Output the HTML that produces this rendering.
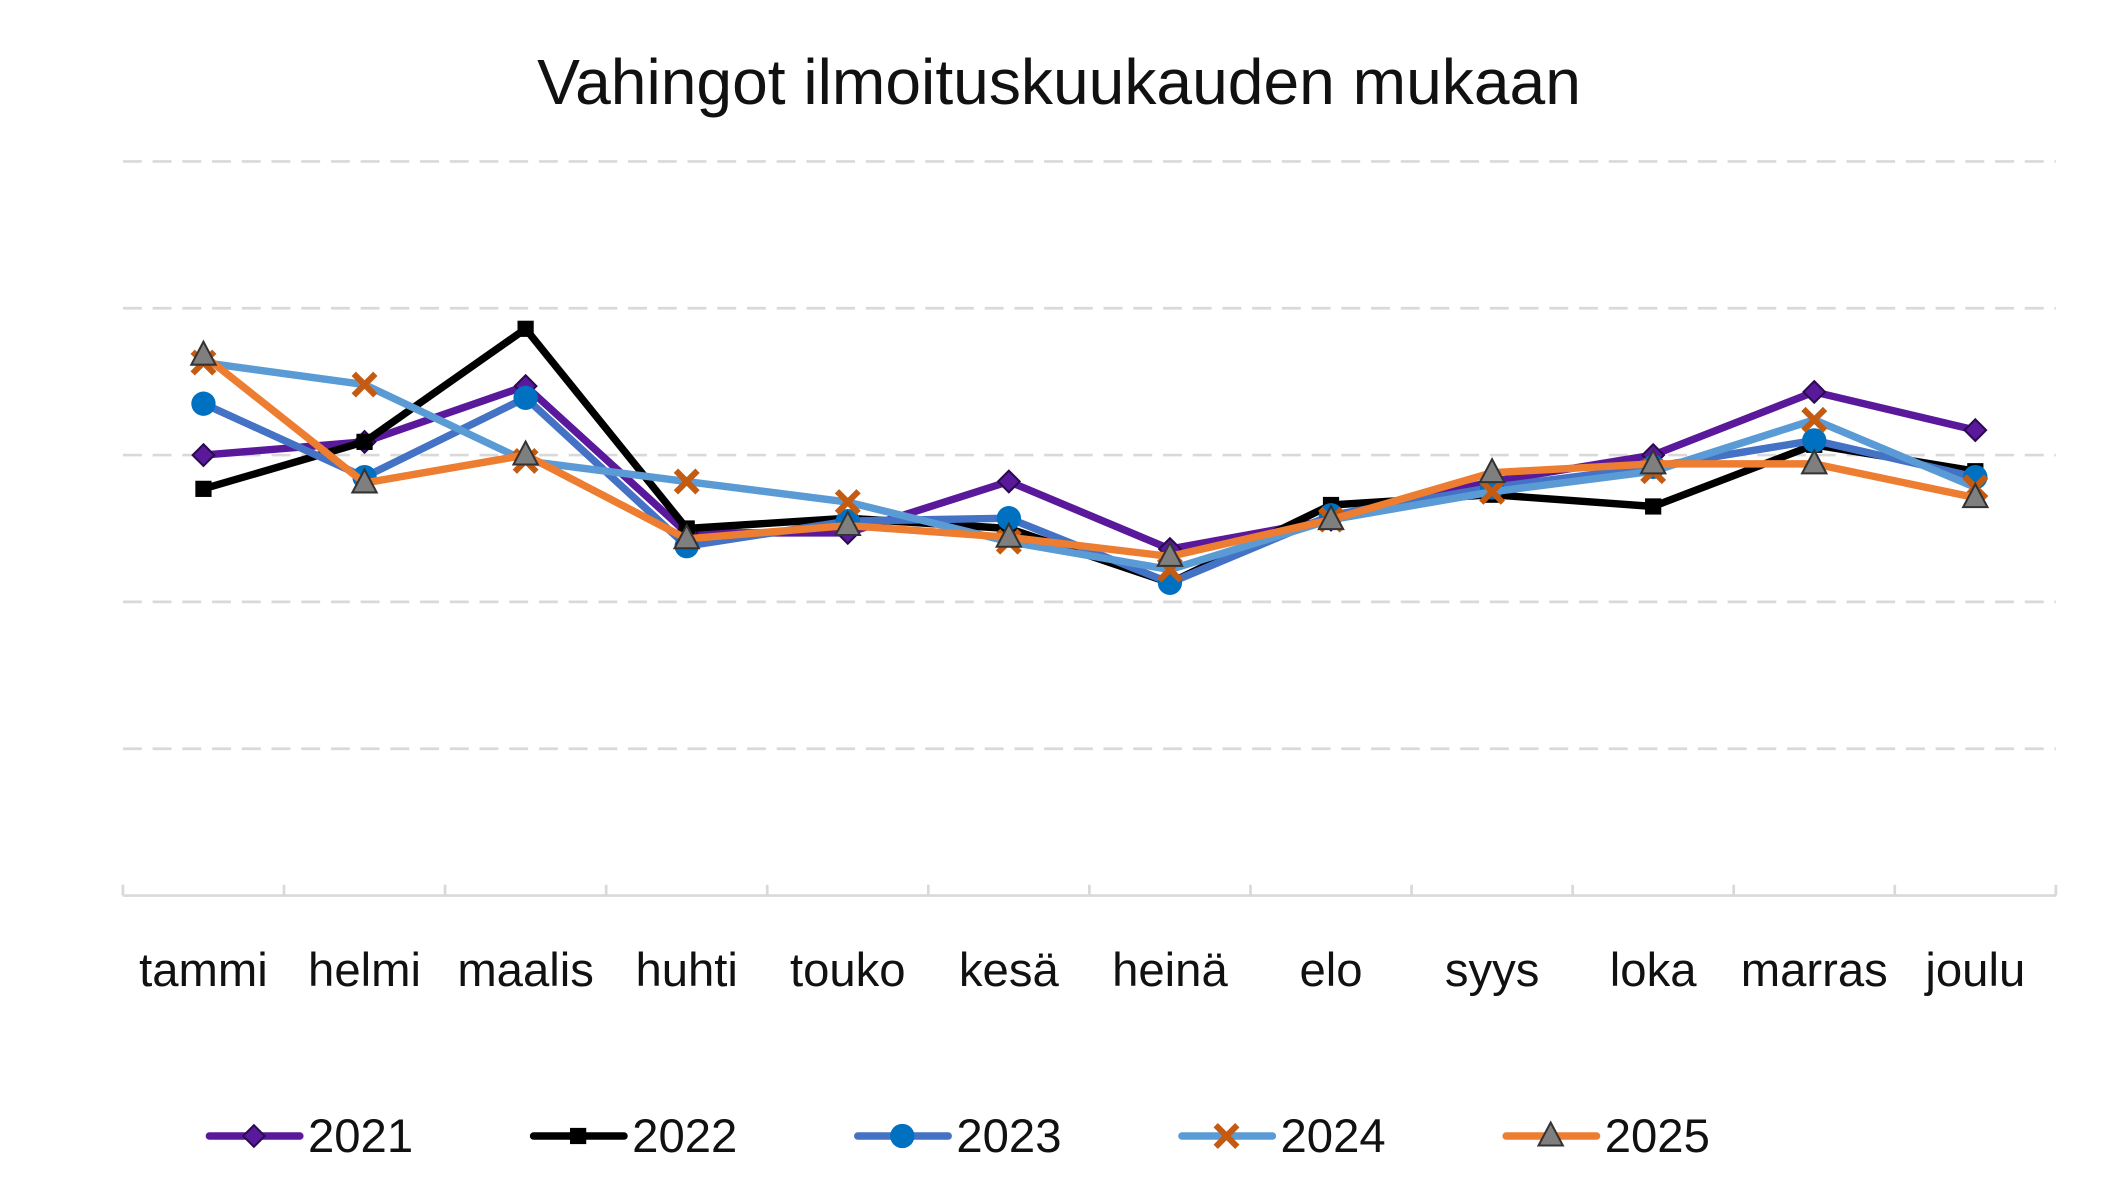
<!DOCTYPE html>
<html><head><meta charset="utf-8">
<style>
html,body{margin:0;padding:0;background:#fff;}
svg{display:block;font-family:"Liberation Sans",sans-serif;}
</style></head>
<body>
<svg id="chart" width="2118" height="1193" viewBox="0 0 1568 883.2" xmlns="http://www.w3.org/2000/svg">
<rect width="1568" height="883.2" fill="#fff"/>
<text x="784" y="77" font-size="47.5" text-anchor="middle" fill="#111">Vahingot ilmoituskuukauden mukaan</text>
<g id="grid"></g><g id="axis"></g><g id="series"></g><g id="legend"></g>
</svg>
<script>
const categories=["tammi","helmi","maalis","huhti","touko","kesä","heinä","elo","syys","loka","marras","joulu"];
const s2021=[3.0,3.09,3.47,2.47,2.47,2.82,2.36,2.56,2.82,3.0,3.43,3.17];
const s2022=[2.77,3.09,3.86,2.5,2.57,2.5,2.13,2.66,2.73,2.65,3.07,2.89];
const s2023=[3.35,2.85,3.39,2.38,2.55,2.57,2.13,2.59,2.78,2.92,3.1,2.85];
const s2024=[3.63,3.48,2.96,2.82,2.68,2.41,2.22,2.56,2.75,2.89,3.24,2.78];
const s2025=[3.68,2.81,3.0,2.43,2.52,2.44,2.31,2.56,2.88,2.94,2.94,2.71];
const seriesNames=["2021","2022","2023","2024","2025"];
const yTicks=[1,2,3,4,5];
const NS="http://www.w3.org/2000/svg";
const X0=91,X1=1522,Y0=663,YU=108.7;
const bw=(X1-X0)/categories.length;
const xs=i=>X0+bw*(i+0.5);
const ys=v=>Y0-v*YU;
function mk(tag,attrs,parent){const e=document.createElementNS(NS,tag);for(const k in attrs)e.setAttribute(k,attrs[k]);parent.appendChild(e);return e;}
const grid=document.getElementById('grid'),axis=document.getElementById('axis'),ser=document.getElementById('series'),leg=document.getElementById('legend');
yTicks.forEach(t=>{const l=mk('line',{x1:X0,x2:X1,y1:ys(t),y2:ys(t),stroke:'#d9d9d9','stroke-width':2,'stroke-dasharray':'14,8'},grid);

});
const ax=mk('line',{x1:X0,x2:X1,y1:Y0,y2:Y0,stroke:'#d9d9d9','stroke-width':2},axis);


for(let i=0;i<=categories.length;i++){const tk=mk('line',{x1:X0+bw*i,x2:X0+bw*i,y1:Y0-8,y2:Y0,stroke:'#d9d9d9','stroke-width':2},axis);

}
categories.forEach((c,i)=>{const t=mk('text',{x:xs(i),y:730,'font-size':35,'text-anchor':'middle',fill:'#111'},axis);t.textContent=c;

});
const styles=[
 {data:s2021,line:'#5a189a',m:'diamond',mf:'#5a189a',ms:'#2a0a50'},
 {data:s2022,line:'#000',m:'square',mf:'#000',ms:'#000'},
 {data:s2023,line:'#4472c4',m:'circle',mf:'#0070c0',ms:'#0070c0'},
 {data:s2024,line:'#5b9bd5',m:'x',mf:'#c55a11',ms:'#c55a11'},
 {data:s2025,line:'#ed7d31',m:'tri',mf:'#7f7f7f',ms:'#333'}];
function marker(p,st,x,y){let e;
 if(st.m==='diamond')e=mk('polygon',{points:`${x},${y-8} ${x+8},${y} ${x},${y+8} ${x-8},${y}`,fill:st.mf,stroke:st.ms,'stroke-width':1.5},p);
 else if(st.m==='square')e=mk('rect',{x:x-6,y:y-6,width:12,height:12,fill:st.mf},p);
 else if(st.m==='circle')e=mk('circle',{cx:x,cy:y,r:9,fill:st.mf},p);
 else if(st.m==='x')e=mk('path',{d:`M${x-8},${y-8}L${x+8},${y+8}M${x+8},${y-8}L${x-8},${y+8}`,stroke:st.mf,'stroke-width':4.5,fill:'none'},p);
 else e=mk('polygon',{points:`${x},${y-10} ${x+9},${y+7} ${x-9},${y+7}`,fill:st.mf,stroke:st.ms,'stroke-width':1.5},p);
 return e;}
styles.forEach((st,si)=>{const g=mk('g',{},ser);
 
 
 const pl=mk('polyline',{points:st.data.map((v,i)=>xs(i)+','+ys(v)).join(' '),fill:'none',stroke:st.line,'stroke-width':5.5,'stroke-linejoin':'round','stroke-linecap':'round'},g);
 
 
 st.data.forEach((v,i)=>{const m=marker(g,st,xs(i),ys(v));
  
  });
 const lx=155+si*240,ly=841;
 const lg=mk('g',{},leg);
 
 
 mk('line',{x1:lx,x2:lx+67,y1:ly,y2:ly,stroke:st.line,'stroke-width':5.5,'stroke-linecap':'round'},lg);
 marker(lg,st,lx+33,ly);
 const t=mk('text',{x:lx+73,y:ly+12,'font-size':35,fill:'#111'},lg);t.textContent=seriesNames[si];
});
</script>
</body></html>
